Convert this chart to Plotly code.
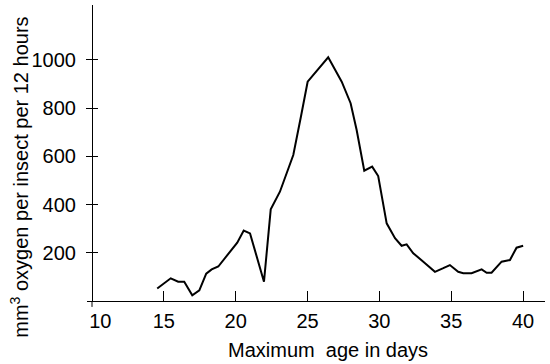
import plotly.graph_objects as go

# Data
age_days = [14.54, 15.48, 16.0, 16.42, 16.98, 17.47, 17.95, 18.33, 18.79, 19.6,
            20.11, 20.56, 21.0, 21.97, 22.44, 23.08, 24.01, 24.54, 25.01, 26.44,
            27.38, 28.0, 28.42, 28.95, 29.5, 29.92, 30.27, 30.51, 31.09, 31.55,
            31.9, 32.36, 33.06, 33.87, 34.45, 34.91, 35.49, 35.84, 36.42, 37.12,
            37.47, 37.81, 38.51, 39.09, 39.55, 40.01]
oxygen = [52, 94, 80, 80, 24, 44, 113, 131, 143, 204,
          242, 292, 280, 80, 380, 453, 605, 764, 909, 1010,
          909, 820, 709, 540, 557, 518, 391, 322, 260, 229,
          235, 198, 163, 121, 136, 149, 121, 115, 115, 131,
          117, 117, 163, 170, 221, 229]

x_ticks = [10, 15, 20, 25, 30, 35, 40]
x_tick_labels = ["\u00a0\u00a0\u00a010", "15", "20", "25", "30", "35", "40"]
y_ticks = [200, 400, 600, 800, 1000]
y_tick_labels = ["200", "400", "600", "800", "1000"]

x_title = "Maximum\u00a0 age in days"
y_title = "mm<sup>3</sup> oxygen per insect per 12 hours"

FONT = "Liberation Sans, Arial, sans-serif"
XR = [9.652, 41.53]
YR = [0, 1227]
ypos = (10 - XR[0]) / (XR[1] - XR[0])

fig = go.Figure()
fig.add_trace(go.Scatter(x=age_days, y=oxygen, mode="lines",
                         line=dict(color="black", width=2), hoverinfo="skip",
                         showlegend=False))
fig.add_trace(go.Scatter(x=age_days, y=oxygen, mode="lines", yaxis="y2",
                         line=dict(color="rgba(0,0,0,0)", width=0), hoverinfo="skip",
                         showlegend=False))

fig.update_layout(
    width=550, height=364,
    margin=dict(l=87, r=5, t=5, b=63, autoexpand=False),
    paper_bgcolor="white", plot_bgcolor="white",
    font=dict(family=FONT, size=20, color="black"),
    xaxis=dict(range=XR, tickmode="array", tickvals=x_ticks, ticktext=x_tick_labels,
               ticks="inside", ticklen=10, tickwidth=1, tickcolor="black",
               showline=True, linecolor="black", linewidth=1, automargin=False,
               showgrid=False, zeroline=False, ticklabelstandoff=2,
               tickfont=dict(size=20)),
    yaxis=dict(range=YR, tickmode="array", tickvals=y_ticks, ticktext=y_tick_labels,
               ticks="outside", ticklen=6, tickwidth=1, tickcolor="black",
               showline=True, linecolor="black", linewidth=1, automargin=False,
               showgrid=False, zeroline=False, anchor="free", position=ypos,
               ticklabelstandoff=6, tickfont=dict(size=20)),
    yaxis2=dict(range=YR, tickmode="array", tickvals=y_ticks, showticklabels=False,
                ticks="inside", ticklen=5, tickwidth=1, tickcolor="black",
                showline=False, showgrid=False, zeroline=False, automargin=False,
                overlaying="y", anchor="free", position=ypos),
    annotations=[
        dict(text=x_title, xref="paper", yref="paper", x=(327.5 - 87) / 458, y=-0.12,
             xanchor="center", yanchor="top", showarrow=False,
             font=dict(size=20, family=FONT, color="black")),
        dict(text=y_title, xref="paper", yref="paper", x=-0.148, y=(301 - 177.5) / 296,
             xanchor="center", yanchor="middle", showarrow=False, textangle=-90,
             font=dict(size=20, family=FONT, color="black")),
    ],
    shapes=[dict(type="line", xref="x", yref="paper", x0=10, x1=10, y0=0, y1=-0.02,
                 line=dict(color="black", width=1))],
)

fig.write_html("out.html", config={"displayModeBar": False},
               post_script="document.body.style.margin='0';document.body.style.overflow='hidden';")
